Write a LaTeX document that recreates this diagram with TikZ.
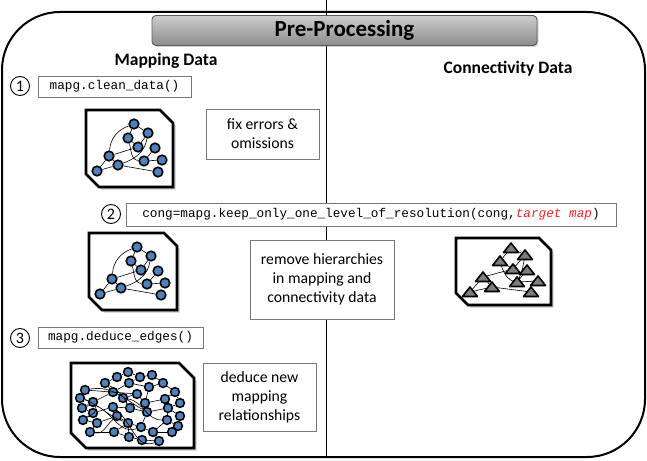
\documentclass[tikz,border=0pt]{standalone}
\usepackage{fontspec}
\setmainfont{Carlito}
\newfontfamily\codefont{Liberation Mono}
\usetikzlibrary{shadows}
\definecolor{nodeblue}{RGB}{79,129,189}
\definecolor{trigray}{RGB}{125,125,125}
\definecolor{boxline}{RGB}{120,120,120}
\definecolor{codered}{RGB}{235,40,40}
\definecolor{titletop}{RGB}{205,205,205}
\definecolor{titlebot}{RGB}{140,140,140}
\tikzset{
 codebox/.style={draw=boxline, line width=0.9pt, fill=white, inner sep=0pt, font=\codefont\fontsize{12.7}{14}\selectfont},
 textbox/.style={draw=boxline, line width=0.9pt, fill=white, inner sep=0pt, align=center, font=\fontsize{15.7}{19}\selectfont},
 numcircle/.style={circle, draw=black, line width=0.9pt, fill=white, minimum size=19pt, inner sep=0pt, font=\fontsize{16}{16}\selectfont},
 header/.style={font=\bfseries\fontsize{17.5}{20}\selectfont},
 titlebox/.style={draw=black!65, line width=0.9pt, rounded corners=4pt, top color=titletop, bottom color=titlebot,
   minimum width=385pt, minimum height=30pt, inner sep=0pt, font=\bfseries\fontsize{23}{24}\selectfont,
   drop shadow={shadow xshift=1.5pt, shadow yshift=-1.5pt, opacity=0.35}},
 gnode/.style={circle, draw=black, line width=1.6pt, fill=nodeblue, minimum size=9.6pt, inner sep=0pt},
 snode/.style={circle, draw=black, line width=1.5pt, fill=nodeblue, minimum size=8.8pt, inner sep=0pt},
 gedge/.style={line width=0.6pt},
 iconline/.style={draw=black, line width=2.6pt, fill=white, line join=miter},
 iconshadow/.style={fill=black!22},
 outline/.style={line width=2pt, rounded corners=58pt},
 divider/.style={line width=1pt},
 tri/.pic={\draw[fill=trigray, line width=1.6pt, line join=round] (-7.5,4.5) -- (0,-5) -- (7.5,4.5) -- cycle;}
}
\newcommand\drawicon[5]{%
 \fill[iconshadow] (#1+2.5,#2+2.5) -- (#3-#5+2.5,#2+2.5) -- (#3+2.5,#2+#5+2.5) -- (#3+2.5,#4+2.5) -- (#1+#5+2.5,#4+2.5) -- (#1+2.5,#4-#5+2.5) -- cycle;
 \draw[iconline] (#1,#2) -- (#3-#5,#2) -- (#3,#2+#5) -- (#3,#4) -- (#1+#5,#4) -- (#1,#4-#5) -- cycle;}
\newcommand\mapgraph[3]{%
 \begin{scope}[shift={(#2,#3)}]
 \node[gnode] (#1a) at (48,14) {};
 \node[gnode] (#1b) at (62,23) {};
 \node[gnode] (#1c) at (42,28) {};
 \node[gnode] (#1d) at (52,37) {};
 \node[gnode] (#1e) at (69,38) {};
 \node[gnode] (#1f) at (23,46) {};
 \node[gnode] (#1g) at (58,51) {};
 \node[gnode] (#1h) at (76,50) {};
 \node[gnode] (#1i) at (32,55) {};
 \node[gnode] (#1j) at (11,61) {};
 \node[gnode] (#1k) at (72,62) {};
 \draw[gedge] (#1a) -- (#1b) (#1a) -- (#1c) (#1c) -- (#1d) (#1d) -- (#1b) (#1f) -- (#1d)
   (#1f) -- (#1i) (#1j) -- (#1i) (#1f) -- (#1j) (#1i) -- (#1k) (#1e) -- (#1g) (#1g) -- (#1h)
   (#1a) to[out=200,in=85] (#1f)
   (#1c) to[out=-75,in=175] (#1g)
   (#1b) to[out=-100,in=20] (#1i);
 \end{scope}}
\newcommand\conngraph[2]{%
 \begin{scope}[shift={(#1,#2)}]
 \coordinate (ta) at (55,10); \coordinate (tb) at (69,17); \coordinate (tc) at (44,23);
 \coordinate (td) at (57,31); \coordinate (te) at (71,32); \coordinate (tf) at (27,39);
 \coordinate (tg) at (61,44); \coordinate (th) at (82,43); \coordinate (ti) at (36,49);
 \coordinate (tj) at (14,54); \coordinate (tk) at (75,54);
 \draw[gedge] (ta) -- (tb) (ta) -- (tc) (tc) -- (td) (td) -- (tb) (tf) -- (td)
   (tf) -- (ti) (tj) -- (ti) (tf) -- (tj) (ti) -- (tk) (te) -- (tg) (tg) -- (th)
   (tf) to[out=0,in=80] (ti)
   (tc) to[out=-75,in=175] (tg)
   (tb) to[out=-100,in=60] (tg);
 \foreach \t in {ta,tb,tc,td,te,tf,tg,th,ti,tj,tk} \pic at (\t) {tri};
 \end{scope}}
\begin{document}
\begin{tikzpicture}[x=1pt,y=-1pt]
\useasboundingbox (0,0) rectangle (647,460);
% outer frame and divider
\coordinate (divtop) at (326,0);
\coordinate (divbot) at (326,457);
\draw[divider] (divtop) -- (divbot);
\draw[outline] (2,12) rectangle (645,457);
% title
\node[titlebox] (title) at (344.5,30.5) {Pre-Processing};
% headers
\node[header] (maphead) at (166,61) {Mapping Data};
\node[header] (conhead) at (508,69) {Connectivity Data};
% step 1
\node[numcircle] (n1) at (20,86) {1};
\node[codebox, minimum width=153pt, minimum height=21pt] (code1) at (114.5,86.5) {mapg.clean\_data()};
\drawicon{86}{110}{173}{187}{13}
\mapgraph{m}{86}{110}
\node[textbox, minimum width=113pt, minimum height=50pt] (fix) at (262.5,134) {fix errors \&\\omissions};
% step 2
\node[numcircle] (n2) at (111,214) {2};
\node[codebox, minimum width=490pt, minimum height=23pt] (code2) at (371,214.5)
  {cong=mapg.keep\_only\_one\_level\_of\_resolution(cong,{\color{codered}\itshape target map})};
\drawicon{89}{233}{177}{310}{13}
\mapgraph{r}{89}{233}
\node[textbox, minimum width=144pt, minimum height=79pt] (remove) at (322,279.5)
  {remove hierarchies\\in mapping and\\connectivity data};
\drawicon{456}{238}{551}{305}{12}
\conngraph{456}{238}
% step 3
\node[numcircle] (n3) at (20,338) {3};
\node[codebox, minimum width=165pt, minimum height=21pt] (code3) at (120.5,337.5) {mapg.deduce\_edges()};
\drawicon{71}{363}{194}{448}{15}
\foreach \nm/\px/\py in {1/128/372,2/117/377,3/140/377,4/152/375,5/105/383,6/129/383,7/149/387,8/163/383,
  9/85/390,10/113/392,11/137/394,12/123/398,13/175/392,14/80/398,15/93/402,16/145/403,17/165/399,18/180/403,
  19/82/408,20/113/407,21/130/408,22/147/412,23/168/408,24/93/413,25/117/416,26/180/416,27/83/420,28/97/423,
  29/128/423,30/141/427,31/167/420,32/178/426,33/90/432,34/114/432,35/153/432,36/172/432,37/129/437,38/142/440,39/159/441}
  \node[snode] (s\nm) at (\px,\py) {};
\foreach \u/\v in {2/1,1/3,3/4,4/8,2/5,5/10,10/6,6/3,6/7,7/8,8/13,9/11,9/14,14/15,15/10,10/12,12/11,11/16,16/7,
  16/17,17/13,13/18,18/23,17/23,15/19,19/24,24/20,20/21,21/12,21/22,22/16,22/23,23/26,26/32,24/27,27/28,28/25,
  25/20,25/29,29/30,30/22,30/35,35/31,31/23,31/32,32/36,36/35,28/33,33/34,34/29,34/37,37/38,38/39,39/35,29/37}
  \draw[gedge] (s\u) -- (s\v);
\draw[gedge] (s14) to[out=-20,in=160] (s29) (s9) to[out=10,in=150] (s22) (s20) to[out=-40,in=200] (s39)
  (s12) to[out=-10,in=180] (s31) (s19) to[out=20,in=200] (s30) (s5) to[out=-30,in=120] (s21)
  (s27) to[out=30,in=-60] (s15) (s33) to[out=-10,in=220] (s25);
\node[textbox, minimum width=113pt, minimum height=68pt] (deduce) at (259.5,397)
  {deduce new\\mapping\\relationships};
\end{tikzpicture}
\end{document}
